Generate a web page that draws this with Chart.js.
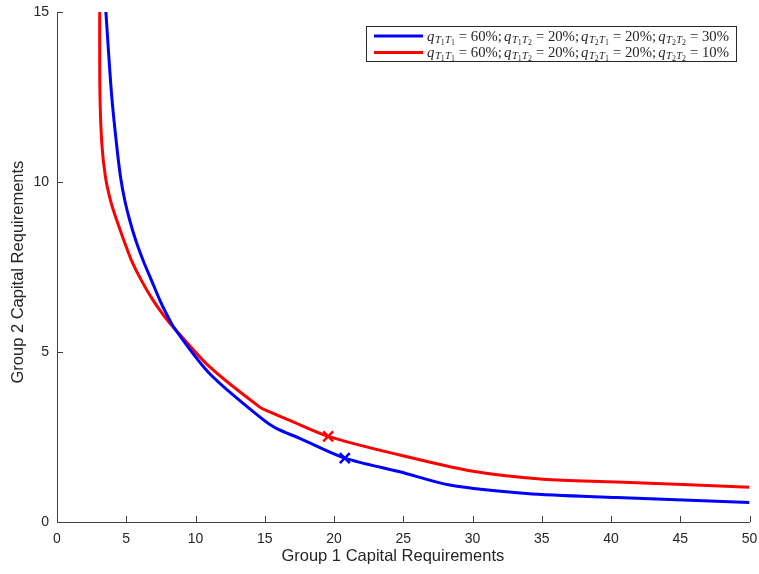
<!DOCTYPE html>
<html>
<head>
<meta charset="utf-8">
<script src="https://cdn.jsdelivr.net/npm/chart.js@4.4.0/dist/chart.umd.min.js"></script>
<style>
  html, body { margin: 0; padding: 0; background: #fff; }
  #wrap { width: 759px; height: 574px; position: relative; }
</style>
</head>
<body>
<div id="wrap"><canvas id="grafica" width="759" height="574"></canvas></div>
<script>
  // values
  const blueX = [3.48, 3.94, 4.30, 4.59, 4.90, 5.26, 5.69, 6.22, 6.83, 7.43, 8.02, 8.51, 11.03, 14.64, 15.8, 17.53, 20.78, 24.75, 28.35, 33.9, 40.4, 50];
  const blueY = [15.3, 12.58, 11.11, 10.14, 9.45, 8.86, 8.28, 7.69, 7.10, 6.52, 6.03, 5.68, 4.36, 3.09, 2.76, 2.46, 1.88, 1.48, 1.09, 0.84, 0.72, 0.57];
  const redX = [3.08, 3.10, 3.24, 3.50, 3.90, 4.35, 4.83, 5.38, 6.1, 6.94, 7.79, 8.51, 11.03, 14.64, 15.36, 16.8, 19.58, 24.75, 29.8, 35.1, 40.4, 50];
  const redY = [15.3, 12.6, 11.11, 10.14, 9.4, 8.83, 8.28, 7.69, 7.10, 6.52, 6.03, 5.68, 4.56, 3.38, 3.24, 2.99, 2.52, 1.97, 1.51, 1.26, 1.18, 1.02];
  const blueMark = [20.78, 1.88];
  const redMark = [19.58, 2.52];
  const xTicks = [0, 5, 10, 15, 20, 25, 30, 35, 40, 45, 50];
  const yTicks = [0, 5, 10, 15];
  const xTitle = 'Group 1 Capital Requirements';
  const yTitle = 'Group 2 Capital Requirements';
  const legendRows = [
    { color: '#0000ff', vals: ['60%', '20%', '20%', '30%'] },
    { color: '#ff0000', vals: ['60%', '20%', '20%', '10%'] },
  ];
  const subs = [['1', '1'], ['1', '2'], ['2', '1'], ['2', '2']];

  const toPts = (xs, ys) => xs.map((x, i) => ({ x: x, y: ys[i] }));
  const axisColor = '#404040';
  const textColor = '#262626';
  const sans = '"Liberation Sans", Arial, sans-serif';

  // inward tick marks + axis titles placed like the original
  const axisDecor = {
    id: 'axisDecor',
    afterDatasetsDraw(chart) {
      const c = chart.ctx, a = chart.chartArea;
      const sx = chart.scales.x, sy = chart.scales.y;
      c.save();
      c.strokeStyle = axisColor;
      c.lineWidth = 1;
      c.beginPath();
      xTicks.forEach(v => {
        const px = Math.round(sx.getPixelForValue(v)) + 0.5;
        c.moveTo(px, a.bottom); c.lineTo(px, a.bottom - 6);
      });
      yTicks.forEach(v => {
        const py = Math.round(sy.getPixelForValue(v)) + 0.5;
        c.moveTo(a.left, py); c.lineTo(a.left + 6, py);
      });
      c.stroke();
      c.fillStyle = textColor;
      c.font = '16.5px ' + sans;
      c.textAlign = 'center';
      c.textBaseline = 'middle';
      c.fillText(xTitle, a.left + (a.right - a.left) * 0.485, 556);
      c.translate(18, a.top + (a.bottom - a.top) * 0.51);
      c.rotate(-Math.PI / 2);
      c.fillText(yTitle, 0, 0);
      c.restore();
    }
  };

  // latex-ish legend
  const mathLegend = {
    id: 'mathLegend',
    afterDraw(chart) {
      const c = chart.ctx;
      const bx = 366, by = 26, bw = 370, bh = 35;
      const textW = 302;
      c.save();
      c.fillStyle = '#fff';
      c.fillRect(bx, by, bw, bh);
      c.strokeStyle = '#262626';
      c.lineWidth = 1;
      c.strokeRect(bx + 0.5, by + 0.5, bw, bh);
      const serif = '"Liberation Serif", "DejaVu Serif", serif';
      legendRows.forEach((row, r) => {
        const ly = by + 10 + r * 16.5;
        c.strokeStyle = row.color;
        c.lineWidth = 3;
        c.beginPath();
        c.moveTo(bx + 8, ly); c.lineTo(bx + 57, ly);
        c.stroke();
        // build pieces, then stretch to the target width
        const pieces = [];
        row.vals.forEach((v, k) => {
          pieces.push({ t: 'q', f: 'italic 14px ' + serif, dy: 0, gap: 0.5 });
          subs[k].forEach(s => {
            pieces.push({ t: 'T', f: 'italic 10px ' + serif, dy: 2, gap: 0 });
            pieces.push({ t: s, f: '7.5px ' + serif, dy: 4, gap: 0.3 });
          });
          pieces.push({ t: ' = ' + v + (k < 3 ? ';' : ''), f: '14px ' + serif, dy: 0, gap: k < 3 ? 2 : 0 });
        });
        let w = 0;
        pieces.forEach(p => { c.font = p.f; p.w = c.measureText(p.t).width; w += p.w + p.gap; });
        const k = textW / w;
        const base = ly + 4.5;
        c.fillStyle = textColor;
        c.save();
        c.translate(bx + 61, 0);
        c.scale(k, 1);
        let x = 0;
        pieces.forEach(p => {
          c.font = p.f;
          c.fillText(p.t, x, base + p.dy);
          x += p.w + p.gap;
        });
        c.restore();
      });
      c.restore();
    }
  };

  const graph = document.getElementById('grafica');
  const myChart = new Chart(graph, {
    type: 'scatter',
    data: {
      datasets: [
        {
          label: 'blue',
          data: toPts(blueX, blueY),
          showLine: true,
          borderColor: '#0000ff',
          borderWidth: 3,
          pointRadius: 0,
          tension: 0.3,
        },
        {
          label: 'red',
          data: toPts(redX, redY),
          showLine: true,
          borderColor: '#ff0000',
          borderWidth: 3,
          pointRadius: 0,
          tension: 0.3,
        },
        {
          label: 'blueMark',
          data: [{ x: blueMark[0], y: blueMark[1] }],
          pointStyle: 'crossRot',
          pointRadius: 7,
          borderColor: '#0000ff',
          borderWidth: 2.5,
        },
        {
          label: 'redMark',
          data: [{ x: redMark[0], y: redMark[1] }],
          pointStyle: 'crossRot',
          pointRadius: 7,
          borderColor: '#ff0000',
          borderWidth: 2.5,
        },
      ],
    },
    options: {
      responsive: false,
      animation: false,
      layout: { padding: { top: 12, right: 9, left: 0, bottom: 0 } },
      plugins: {
        legend: { display: false },
        tooltip: { enabled: false },
      },
      scales: {
        x: {
          type: 'linear',
          min: 0, max: 50,
          afterBuildTicks: s => { s.ticks = xTicks.map(v => ({ value: v })); },
          afterFit: s => { s.height = 52; s.paddingRight = 0; s.paddingLeft = 0; },
          grid: { display: false, drawTicks: false, tickLength: 0 },
          border: { display: true, color: axisColor, width: 1 },
          ticks: { color: textColor, padding: 9, font: { family: sans, size: 14 }, maxRotation: 0 },
        },
        y: {
          type: 'linear',
          min: 0, max: 15,
          afterBuildTicks: s => { s.ticks = yTicks.map(v => ({ value: v })); },
          afterFit: s => { s.width = 57; s.paddingTop = 0; s.paddingBottom = 0; },
          grid: { display: false, drawTicks: false, tickLength: 0 },
          border: { display: true, color: axisColor, width: 1 },
          ticks: { color: textColor, padding: 8, font: { family: sans, size: 14 } },
        },
      },
    },
    plugins: [axisDecor, mathLegend],
  });
</script>
</body>
</html>
